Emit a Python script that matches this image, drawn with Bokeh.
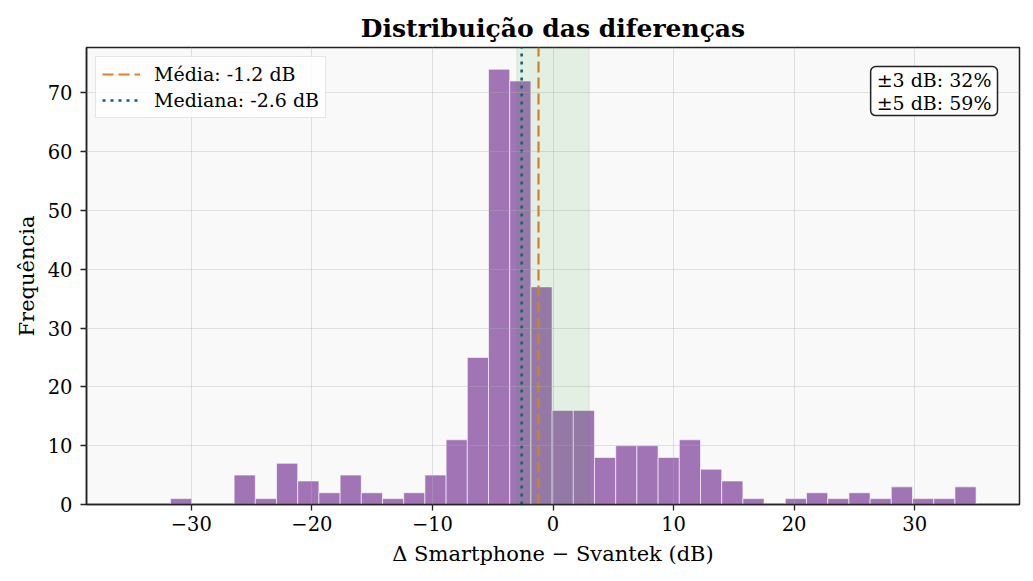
import numpy as np
from bokeh.plotting import figure
from bokeh.models import BoxAnnotation, Label, Legend, LegendItem, FixedTicker
from bokeh.embed import file_html
from bokeh.resources import INLINE

# ---- data ----
bin_min = -31.73
bin_max = 35.10
counts = [1, 0, 0, 5, 1, 7, 4, 2, 5, 2, 1, 2, 5, 11, 25, 74, 72, 37, 16, 16,
          8, 10, 10, 8, 11, 6, 4, 1, 0, 1, 2, 1, 2, 1, 3, 1, 1, 3]
mean_diff = -1.2
median_diff = -2.6
band_low = -3
band_high = 3
pct_within_3 = 32
pct_within_5 = 59
x_ticks = [-30, -20, -10, 0, 10, 20, 30]
x_tick_labels = ["−30", "−20", "−10", "0", "10", "20", "30"]
y_ticks = [0, 10, 20, 30, 40, 50, 60, 70]

edges = np.linspace(bin_min, bin_max, len(counts) + 1)
y_top = max(counts) * 1.05

FONT = "DejaVu Serif"
BAR = "#a175b5"
ORANGE = "#e67e22"
BLUE = "#1a5580"

p = figure(width=1033, height=581, output_backend="svg", toolbar_location=None,
           x_range=(-38.7, 38.7), y_range=(0, y_top),
           min_border_left=86, min_border_right=14, min_border_top=47, min_border_bottom=77,
           background_fill_color="#f9f9f9", border_fill_color="white")

p.quad(left=edges[:-1], right=edges[1:], bottom=0, top=counts,
       fill_color=BAR, fill_alpha=1.0, line_color="white", line_alpha=0.75, line_width=0.8)

band = BoxAnnotation(left=band_low, right=band_high, fill_color="#2ca02c", fill_alpha=0.1,
                     line_color="#2ca02c", line_alpha=0.12, line_width=1)
p.add_layout(band)

r_mean = p.line(x=[mean_diff, mean_diff], y=[0, y_top], line_color=ORANGE,
                line_dash="11 5", line_width=2.2)
r_med = p.line(x=[median_diff, median_diff], y=[0, y_top], line_color=BLUE,
               line_dash="3 5", line_width=2.6)
legend = Legend(items=[LegendItem(label=f"Média: {mean_diff} dB", renderers=[r_mean]),
                       LegendItem(label=f"Mediana: {median_diff} dB", renderers=[r_med])],
                location="top_left")
legend.label_text_font = FONT
legend.label_text_font_size = "19px"
legend.label_text_color = "black"
legend.glyph_width = 38
legend.glyph_height = 22
legend.label_standoff = 14
legend.label_height = 22
legend.padding = 6
legend.spacing = 4
legend.margin = 9
legend.border_line_color = "#cccccc"
legend.border_line_width = 1.5
legend.background_fill_color = "white"
legend.background_fill_alpha = 0.8
p.add_layout(legend)

ann = Label(x=911, y=438, x_units="screen", y_units="screen",
            text=f"±3 dB: {pct_within_3}%\n±5 dB: {pct_within_5}%",
            text_font=FONT, text_font_size="19px", text_color="black",
            text_align="right", text_baseline="top", text_line_height=1.05,
            background_fill_color="white", background_fill_alpha=0.9,
            border_line_color="#222222", border_line_width=1.5,
            padding=(6, 2), border_radius=5)
p.add_layout(ann)

p.title.text = "Distribuição das diferenças"
p.title.text_font = FONT
p.title.text_font_style = "bold"
p.title.text_font_size = "25px"
p.title.text_color = "black"
p.title.align = "center"

p.xaxis.ticker = FixedTicker(ticks=x_ticks)
p.xaxis.major_label_overrides = {t: l for t, l in zip(x_ticks, x_tick_labels)}
p.yaxis.ticker = FixedTicker(ticks=y_ticks)
p.xaxis.axis_label = "Δ Smartphone − Svantek (dB)"
p.yaxis.axis_label = "Frequência"
for ax in (p.xaxis, p.yaxis):
    ax.axis_label_text_font = FONT
    ax.axis_label_text_font_size = "21px"
    ax.axis_label_text_font_style = "normal"
    ax.major_label_text_font = FONT
    ax.major_label_text_font_size = "19.5px"
    ax.minor_tick_line_color = None
    ax.major_tick_out = 6
    ax.major_tick_in = 0
    ax.major_tick_line_width = 1.3
    ax.axis_line_width = 1.5
    ax.axis_line_color = "#222222"
    ax.major_tick_line_color = "#222222"
    ax.major_label_text_color = "black"
    ax.axis_label_text_color = "black"
p.xaxis.major_label_standoff = 5
p.yaxis.major_label_standoff = 8
p.xaxis.axis_label_standoff = 8
p.yaxis.axis_label_standoff = 6

p.outline_line_color = "#222222"
p.outline_line_width = 1.5
p.grid.grid_line_color = "#b0b0b0"
p.grid.grid_line_alpha = 0.35
p.grid.level = "guide"

open("out.html", "w").write(file_html(p, INLINE))
